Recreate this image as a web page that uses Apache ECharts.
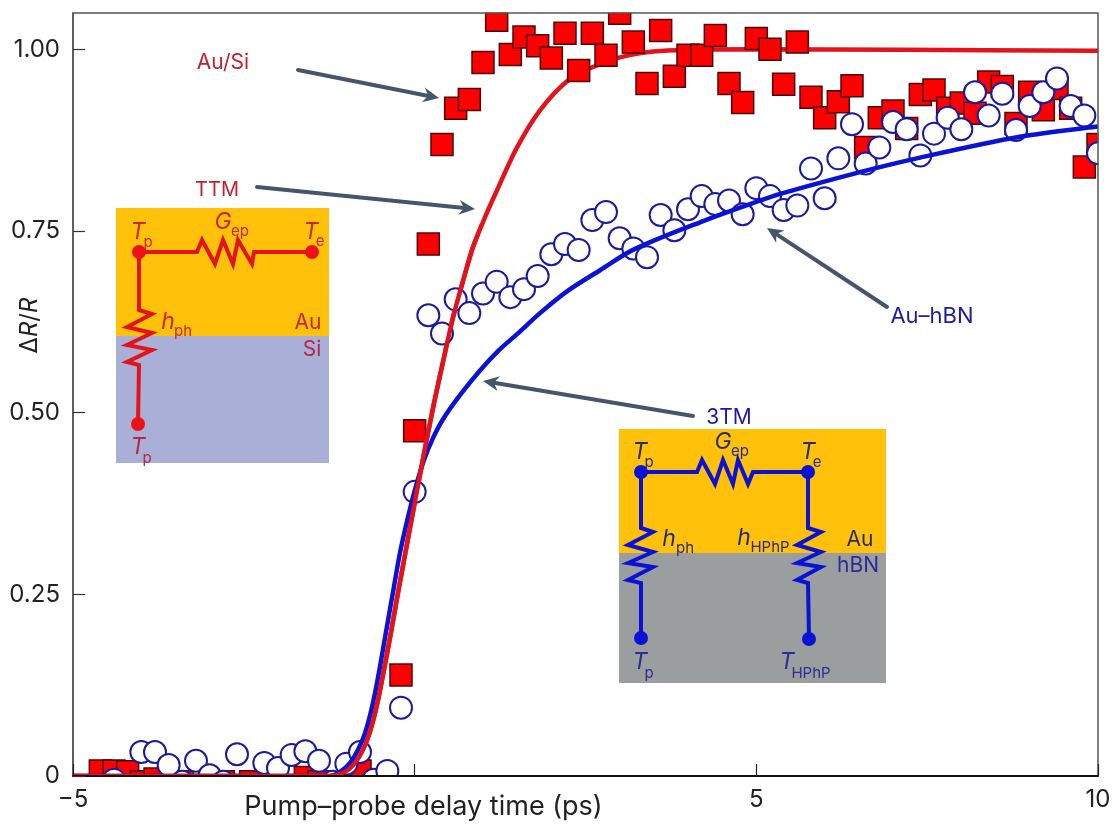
<!DOCTYPE html>
<html><head><meta charset="utf-8">
<style>html,body{margin:0;padding:0;background:#fff}#c{width:1117px;height:827px}</style>
<script src="https://cdn.jsdelivr.net/npm/echarts@6/dist/echarts.min.js"></script>
</head><body><div id="c"></div>
<script>
const xTicks = [-5, 0, 5, 10];
const yTicks = [0, 0.25, 0.5, 0.75, 1];
const xTitle = 'Pump–probe delay time (ps)';

const auSiX = [-4.6,-4.4,-4.2,-4.0,-3.8,-3.4,-2.8,-2.4,-1.6,-1.4,-0.8,-0.2,0,0.2,0.4,0.6,0.8,1,1.2,1.4,1.6,1.8,2,2.2,2.4,2.6,2.8,3,3.2,3.4,3.6,3.8,4,4.2,4.4,4.6,4.8,5,5.2,5.4,5.6,5.8,6,6.2,6.4,6.6,6.8,7,7.2,7.4,7.6,7.8,8,8.2,8.4,8.6,8.8,9,9.2,9.4,9.6,9.8,10];
const auSiY = [.007,.007,.006,-.008,-.004,-.008,-.008,-.008,-.002,-.008,.007,.139,.475,.732,.869,.919,.931,.982,1.04,.993,1.017,1.005,.988,1.022,.971,1.022,.992,1.0495,1.01,.953,1.026,.963,.992,.992,1.019,.953,.927,1.015,1,.952,1.01,.934,.906,.928,.95,.865,.906,.915,.891,.938,.944,.919,.926,.912,.955,.949,.898,.941,.917,.946,.919,.838,.869];

const auHbnX = [-4.4,-4,-3.8,-3.6,-3.4,-3.2,-3,-2.8,-2.6,-2.2,-2,-1.8,-1.6,-1.4,-1.2,-1,-0.8,-0.6,-0.4,-0.2,0,0.2,0.4,0.6,0.8,1,1.2,1.4,1.6,1.8,2,2.2,2.4,2.6,2.8,3,3.2,3.4,3.6,3.8,4,4.2,4.4,4.6,4.8,5,5.2,5.4,5.6,5.8,6,6.2,6.4,6.6,6.8,7,7.2,7.4,7.6,7.8,8,8.2,8.4,8.6,8.8,9,9.2,9.4,9.6,9.8,10];
const auHbnY = [-.005,.033,.033,.015,-.008,.021,.001,-.008,.03,.018,.011,.029,.034,.021,-.008,.017,.033,-.005,.007,.094,.391,.634,.609,.656,.637,.664,.68,.659,.67,.688,.718,.732,.724,.765,.776,.74,.726,.714,.772,.751,.78,.798,.787,.792,.773,.809,.798,.779,.785,.836,.795,.85,.897,.843,.865,.9,.89,.854,.884,.906,.89,.941,.909,.939,.889,.922,.941,.96,.922,.909,.857];

const ttmX = [-5,-1.24,-1.02,-.873,-.756,-.654,-.551,-.449,-.346,-.244,-.142,-.039,.063,.166,.283,.415,.561,.707,.854,1.03,1.205,1.498,1.834,2.229,2.566,3.005,3.4,3.84,4.9,7.1,10];
const ttmY = [0,0,.0055,.018,.036,.061,.098,.146,.198,.252,.304,.356,.407,.458,.513,.57,.631,.681,.728,.769,.806,.865,.916,.956,.974,.989,.996,.9986,1,.9995,.998];

const tm3X = [-5,-1.24,-1.093,-.946,-.829,-.727,-.624,-.522,-.42,-.317,-.215,-.098,.019,.137,.268,.415,.663,.956,1.234,1.498,1.834,2.229,2.713,3.195,4.176,4.907,5.39,6.56,7.396,8.816,10];
const tm3Y = [0,0,.0055,.018,.036,.059,.095,.143,.198,.253,.307,.356,.399,.435,.465,.491,.524,.558,.586,.608,.637,.667,.696,.724,.762,.787,.802,.832,.851,.879,.894];

const zip = (a, b) => a.map((v, i) => [v, b[i]]);
const PX_PER_UNIT = 727; // scatter points whose centre sits under the axis are kept, and cut by the frame
const scatterPoint = ([x, y]) => y < 0 ? {value: [x, 0], symbolOffset: [0, -y * PX_PER_UNIT]} : [x, y];
const FONT = 'Inter, "Noto Sans", sans-serif';
const RED = '#E3131B', BLUE = '#0A12D6', ARROW = '#46566A';
const SMOOTH = 0.3;
// the TTM curve runs over the markers on its rise and behind the squares after it
const ttmRiseColor = {type: 'linear', x: 0, y: 0, x2: 1117, y2: 0, global: true,
  colorStops: [{offset: 0, color: RED}, {offset: 0.43, color: RED}, {offset: 0.43, color: 'rgba(227,19,27,0)'}, {offset: 1, color: 'rgba(227,19,27,0)'}]};

function txt(x, y, text, color, size, italic) {
  return {type: 'text', x, y, silent: true, style: {text, fill: color, font: (italic ? 'italic ' : '') + size + 'px ' + FONT, align: 'center', verticalAlign: 'middle'}};
}
function wire(points, color) {
  return {type: 'polyline', silent: true, shape: {points}, style: {stroke: color, fill: 'none', lineWidth: 4, lineJoin: 'miter'}};
}
function node(x, y, color) {
  return {type: 'circle', silent: true, shape: {cx: x, cy: y, r: 7}, style: {fill: color}};
}
function rect(x, y, w, h, color) {
  return {type: 'rect', silent: true, shape: {x, y, width: w, height: h}, style: {fill: color}};
}
function arrow(x1, y1, x2, y2) {
  const a = Math.atan2(y2 - y1, x2 - x1), c = Math.cos(a), s = Math.sin(a);
  const p = (d, n) => [x2 - c * d + s * n, y2 - s * d - c * n];
  return [
    {type: 'polyline', silent: true, shape: {points: [[x1, y1], p(8, 0)]}, style: {stroke: ARROW, fill: 'none', lineWidth: 4, lineCap: 'round'}},
    {type: 'polygon', silent: true, shape: {points: [[x2, y2], p(16, 7.5), p(11, 0), p(16, -7.5)]}, style: {fill: ARROW}}
  ];
}

const cR = '#C8281E', cRS = '#B8264A', cB = '#2A2A7A', cBlue = '#1A1AA8', cG = '#2B2B99';
const graphics = [
  // markers are cut at the plot frame
  {...rect(0, 0, 1117, 12.5, '#fff'), z: 8},
  {...rect(1098.5, 0, 18.5, 827, '#fff'), z: 8},
  {...rect(0, 777, 1117, 50, '#fff'), z: 8},
  {type: 'rect', silent: true, z: 9, shape: {x: 73, y: 13, width: 1025, height: 763}, style: {fill: 'none', stroke: '#555', lineWidth: 1.5}},
  // annotations and arrows
  txt(223, 63, 'Au/Si', '#C4202E', 21),
  txt(217, 190, 'TTM', '#C4202E', 20),
  txt(932, 316, 'Au–hBN', cBlue, 22),
  txt(729, 418, '3TM', cBlue, 21),
  ...arrow(298, 70, 439, 98),
  ...arrow(257, 187, 475, 209),
  ...arrow(693, 416, 483, 381),
  ...arrow(887, 307, 767, 228),
  // TTM inset
  rect(116, 208, 213, 128, '#FFC10A'),
  rect(116, 336, 213, 127, '#A9AFD6'),
  wire([[139,252],[197,252],[202,240],[215,264],[223,240],[233,264],[238,240],[252,264],[254,252],[312,252]], RED),
  wire([[139,252],[139,310],[152,314],[127,327],[152,333],[127,345],[152,350],[127,362],[139,365],[138,424]], RED),
  node(139, 252, '#F01018'), node(312, 252, '#F01018'), node(138, 424, '#F01018'),
  txt(138, 232, 'T', cR, 23, true), txt(148, 242, 'p', cR, 15),
  txt(223, 222, 'G', cR, 23, true), txt(240, 231, 'ep', cR, 15),
  txt(311, 232, 'T', cR, 23, true), txt(320, 241, 'e', cR, 15),
  txt(168, 322, 'h', cR, 23, true), txt(183, 331, 'ph', cR, 15),
  txt(308, 323, 'Au', cR, 21), txt(312, 350, 'Si', cRS, 21),
  txt(138, 447, 'T', cRS, 23, true), txt(147, 458, 'p', cRS, 15),
  // 3TM inset
  rect(619, 429, 267, 124, '#FFC10A'),
  rect(619, 553, 267, 130, '#9B9E9E'),
  wire([[641,472],[697,472],[702,460],[715,484],[723,460],[733,484],[738,460],[748,484],[753,472],[808,472]], BLUE),
  wire([[641,472],[641,528],[653,532],[628,545],[653,552],[628,563],[653,567],[628,580],[641,583],[641,638]], BLUE),
  wire([[808,472],[808,528],[821,532],[797,545],[821,552],[797,563],[821,567],[797,580],[808,583],[809,639]], BLUE),
  node(641, 472, BLUE), node(808, 472, BLUE), node(641, 638, BLUE), node(809, 639, BLUE),
  txt(640, 452, 'T', cB, 23, true), txt(649, 462, 'p', cB, 15),
  txt(723, 442, 'G', cB, 23, true), txt(740, 451, 'ep', cB, 15),
  txt(808, 452, 'T', cB, 23, true), txt(817, 462, 'e', cB, 15),
  txt(669, 539, 'h', cB, 23, true), txt(685, 548, 'ph', cB, 15),
  txt(744, 538, 'h', cB, 23, true), txt(770, 547, 'HPhP', cB, 15),
  txt(860, 540, 'Au', cB, 21), txt(858, 566, 'hBN', cG, 21),
  txt(640, 662, 'T', cG, 23, true), txt(649, 673, 'p', cG, 15),
  txt(787, 662, 'T', cG, 23, true), txt(811, 673, 'HPhP', cG, 15)
];

const chart = echarts.init(document.getElementById('c'), null, {renderer: 'canvas'});
chart.setOption({
  animation: false,
  backgroundColor: '#fff',
  grid: {left: 73, right: 19, top: 13, bottom: 51, show: false, containLabel: false},
  xAxis: {
    type: 'value', z: 10, min: xTicks[0], max: xTicks[3], interval: 5,
    name: xTitle, nameLocation: 'middle', nameGap: 17, nameMoveOverlap: false,
    nameTextStyle: {fontFamily: FONT, fontSize: 27, color: '#222', padding: [0, 324, 0, 0]},
    axisLine: {onZero: false, lineStyle: {color: '#111', width: 2}},
    axisTick: {inside: true, length: 12, lineStyle: {color: '#222', width: 1.2}},
    splitLine: {show: false},
    axisLabel: {margin: 12, fontFamily: FONT, fontSize: 24, color: '#222', showMinLabel: true, showMaxLabel: true, hideOverlap: false,
      formatter: v => v === 0 ? '' : (v < 0 ? '−' + (-v) : String(v))}
  },
  yAxis: {
    type: 'value', z: 10, min: 0, max: 1.05, interval: 0.25,
    name: '{a|Δ}{b|R}{a|/}{b|R}', nameLocation: 'middle', nameGap: 31, nameMoveOverlap: false,
    nameTextStyle: {padding: [0, 0, 0, 138], rich: {
      a: {fontFamily: FONT, fontSize: 24, color: '#222'},
      b: {fontFamily: FONT, fontSize: 24, color: '#222', fontStyle: 'italic'}}},
    axisLine: {onZero: false, lineStyle: {color: '#555', width: 1.5}},
    axisTick: {inside: true, length: 12, lineStyle: {color: '#333', width: 1.2}},
    splitLine: {show: false},
    axisLabel: {margin: 13, fontFamily: FONT, fontSize: 24, color: '#222', showMaxLabel: false,
      formatter: v => v === 0 ? '0' : v.toFixed(2)}
  },
  series: [
    {name: 'TTM', type: 'line', z: 1, data: zip(ttmX, ttmY), smooth: SMOOTH, symbol: 'none', lineStyle: {color: RED, width: 4.5}},
    {name: 'Au/Si', type: 'scatter', z: 2, data: zip(auSiX, auSiY).map(scatterPoint), symbol: 'rect', symbolSize: 22,
      itemStyle: {color: '#FF0000', borderColor: '#4A0808', borderWidth: 1.5, opacity: 1}},
    {name: 'Au–hBN', type: 'scatter', z: 3, data: zip(auHbnX, auHbnY).map(scatterPoint), symbol: 'circle', symbolSize: 22,
      itemStyle: {color: '#FFFFFF', borderColor: '#1A1AA0', borderWidth: 2, opacity: 1}},
    {name: '3TM', type: 'line', z: 4, data: zip(tm3X, tm3Y), smooth: SMOOTH, symbol: 'none', lineStyle: {color: BLUE, width: 4.5}},
    {name: 'TTM rise', type: 'line', z: 4.5, data: zip(ttmX, ttmY), smooth: SMOOTH, symbol: 'none', lineStyle: {color: ttmRiseColor, width: 4.5}}
  ],
  graphic: {elements: graphics}
});
</script></body></html>
